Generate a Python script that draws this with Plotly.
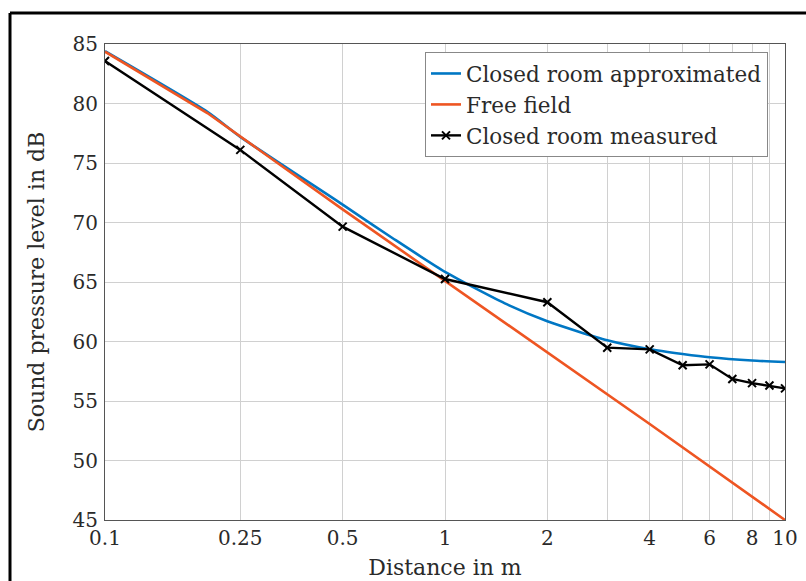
import plotly.graph_objects as go

# Data
approx_x = [0.1, 0.2, 0.25, 0.5, 0.7, 1, 1.5, 2, 3, 4, 5, 6, 8, 10]
approx_y = [84.4, 79.3, 77.2, 71.5, 68.7, 65.85, 63.2, 61.7, 60.1, 59.35, 58.95, 58.67, 58.4, 58.28]

free_x = [0.1, 0.2, 0.5, 1, 2, 4, 10]
free_y = [84.35, 79.2, 71.1, 65.1, 59.1, 53.07, 45.0]

meas_x = [0.1, 0.25, 0.5, 1, 2, 3, 4, 5, 6, 7, 8, 9, 10]
meas_y = [83.57, 76.1, 69.65, 65.25, 63.3, 59.48, 59.34, 58.0, 58.08, 56.85, 56.5, 56.3, 56.06]

x_tickvals = [0.1, 0.25, 0.5, 1, 2, 3, 4, 5, 6, 7, 8, 9, 10]
x_ticktext = ["0.1", "0.25", "0.5", "1", "2", "", "4", "", "6", "", "8", "", "10"]
y_tickvals = [45, 50, 55, 60, 65, 70, 75, 80, 85]

FONT = "DejaVu Serif"
TXT = "#2a2a2a"

fig = go.Figure()
fig.add_trace(go.Scatter(x=approx_x, y=approx_y, mode="lines",
                         name="Closed room approximated",
                         line=dict(color="#0077C4", width=2.6, shape="spline", smoothing=0.6)))
fig.add_trace(go.Scatter(x=free_x, y=free_y, mode="lines", name="Free field",
                         line=dict(color="#EE5522", width=2.6)))
fig.add_trace(go.Scatter(x=meas_x, y=meas_y, mode="lines+markers",
                         name="Closed room measured",
                         line=dict(color="black", width=2.4),
                         marker=dict(symbol="x-thin", size=8,
                                     line=dict(color="black", width=2))))

W, H = 806, 581
left, right, top, bottom = 105, 785, 44, 520   # plot area in window pixels
pw, ph = right - left, bottom - top

def px(xw):
    return (xw - left) / pw

def py(yw):
    return 1 - (yw - top) / ph

fig.update_layout(
    width=W, height=H,
    margin=dict(l=left, r=W - right, t=top, b=H - bottom, pad=0, autoexpand=False),
    paper_bgcolor="white", plot_bgcolor="white",
    font=dict(family=FONT, size=20, color=TXT),
    showlegend=True,
    legend=dict(x=px(425), y=py(52), xanchor="left", yanchor="top",
                bgcolor="white", bordercolor="#888888", borderwidth=1,
                font=dict(family=FONT, size=21.5, color=TXT),
                tracegroupgap=0, itemwidth=30),
    xaxis=dict(type="log", range=[-1, 1], tickvals=x_tickvals, ticktext=x_ticktext,
               showgrid=True, gridcolor="#d0d0d0", gridwidth=1,
               showline=True, linecolor="#555555", linewidth=1, mirror=True,
               ticks="", zeroline=False, automargin=False,
               tickfont=dict(family=FONT, size=20, color=TXT),
               title=dict(text="Distance in m", standoff=10,
                          font=dict(family=FONT, size=22, color=TXT))),
    yaxis=dict(range=[45, 85], tickvals=y_tickvals,
               showgrid=True, gridcolor="#d0d0d0", gridwidth=1,
               showline=True, linecolor="#555555", linewidth=1, mirror=True,
               ticks="", zeroline=False, automargin=False, ticklabelstandoff=2,
               tickfont=dict(family=FONT, size=20, color=TXT),
               title=dict(text="Sound pressure level in dB", standoff=21,
                          font=dict(family=FONT, size=22, color=TXT))),
    shapes=[
        dict(type="line", xref="paper", yref="paper",
             x0=px(10), x1=px(812), y0=py(13), y1=py(13),
             line=dict(color="black", width=3)),
        dict(type="line", xref="paper", yref="paper",
             x0=px(10), x1=px(10), y0=py(13), y1=py(590),
             line=dict(color="black", width=3)),
    ],
)

fig.write_html("out.html", config={"displayModeBar": False},
               post_script="document.body.style.margin='0px';")
